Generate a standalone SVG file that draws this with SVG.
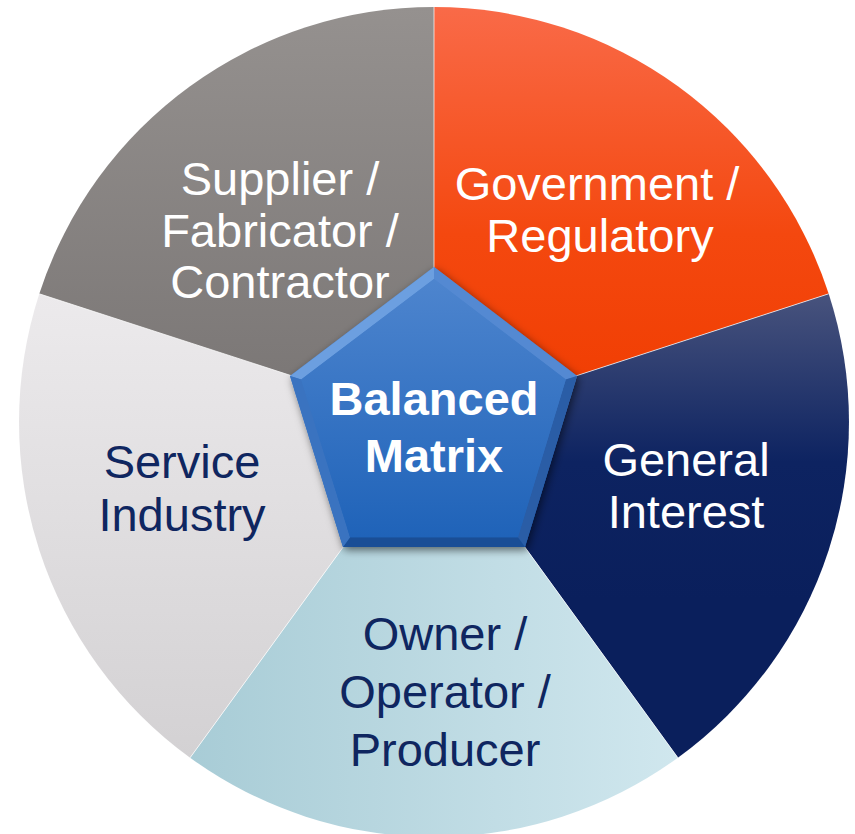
<svg xmlns="http://www.w3.org/2000/svg" width="855" height="834" viewBox="0 0 855 834">
<defs>
<linearGradient id="gGov" gradientUnits="userSpaceOnUse" x1="0" y1="7" x2="0" y2="420"><stop offset="0" stop-color="#f96a48"/><stop offset="0.55" stop-color="#f4480f"/><stop offset="1" stop-color="#f03c00"/></linearGradient>
<linearGradient id="gSup" gradientUnits="userSpaceOnUse" x1="0" y1="7" x2="0" y2="400"><stop offset="0" stop-color="#95918f"/><stop offset="1" stop-color="#7a7675"/></linearGradient>
<linearGradient id="gSer" gradientUnits="userSpaceOnUse" x1="0" y1="294" x2="0" y2="758"><stop offset="0" stop-color="#eceaec"/><stop offset="1" stop-color="#d3d1d3"/></linearGradient>
<linearGradient id="gOwn" gradientUnits="userSpaceOnUse" x1="190" y1="0" x2="678" y2="0"><stop offset="0" stop-color="#a8ccd6"/><stop offset="1" stop-color="#d0e7ee"/></linearGradient>
<linearGradient id="gGen" gradientUnits="userSpaceOnUse" x1="0" y1="294" x2="0" y2="600"><stop offset="0" stop-color="#48537d"/><stop offset="0.55" stop-color="#0d2361"/><stop offset="1" stop-color="#0a1f5c"/></linearGradient>
<linearGradient id="gPent" gradientUnits="userSpaceOnUse" x1="0" y1="270" x2="0" y2="545"><stop offset="0" stop-color="#4f86cf"/><stop offset="1" stop-color="#1e62b8"/></linearGradient>
<filter id="sh" x="-20%" y="-20%" width="140%" height="140%"><feDropShadow dx="2" dy="3" stdDeviation="4" flood-color="#000" flood-opacity="0.55"/></filter>
<style>
.lbl{font-family:"Liberation Sans",Arial,sans-serif;font-size:47px;text-anchor:middle}
.w{fill:#ffffff}
.n{fill:#0f2660}
.sep{stroke:#ffffff;stroke-width:1;stroke-opacity:0.7;fill:none}
.ctr{font-family:"Liberation Sans",Arial,sans-serif;font-size:47px;font-weight:bold;fill:#ffffff;text-anchor:middle}
</style>
</defs>
<g id="gov">
<path d="M434,422 L434,7 A415,415 0 0 1 828.7,293.8 Z" fill="url(#gGov)"/>
<text class="lbl w" x="597" y="200">Government /</text>
<text class="lbl w" x="600" y="252">Regulatory</text>
</g>
<g id="general">
<path d="M434,422 L828.7,293.8 A415,415 0 0 1 677.9,757.7 Z" fill="url(#gGen)"/>
<text class="lbl w" x="686" y="476">General</text>
<text class="lbl w" x="686" y="528">Interest</text>
</g>
<g id="owner">
<path d="M434,422 L677.9,757.7 A415,415 0 0 1 190.1,757.7 Z" fill="url(#gOwn)"/>
<text class="lbl n" x="445" y="650">Owner /</text>
<text class="lbl n" x="445" y="708">Operator /</text>
<text class="lbl n" x="445" y="766">Producer</text>
</g>
<g id="service">
<path d="M434,422 L190.1,757.7 A415,415 0 0 1 39.3,293.8 Z" fill="url(#gSer)"/>
<text class="lbl n" x="182" y="478">Service</text>
<text class="lbl n" x="182" y="531">Industry</text>
</g>
<g id="supplier">
<path d="M434,422 L39.3,293.8 A415,415 0 0 1 434,7 Z" fill="url(#gSup)"/>
<text class="lbl w" x="280" y="195">Supplier /</text>
<text class="lbl w" x="280" y="247">Fabricator /</text>
<text class="lbl w" x="280" y="298">Contractor</text>
</g>
<g id="connectors">
<line class="sep" x1="434" y1="422" x2="434" y2="7"/>
<line class="sep" x1="434" y1="422" x2="828.7" y2="293.8"/>
<line class="sep" x1="434" y1="422" x2="677.9" y2="757.7"/>
<line class="sep" x1="434" y1="422" x2="190.1" y2="757.7"/>
<line class="sep" x1="434" y1="422" x2="39.3" y2="293.8"/>
</g>
<g id="center">
<polygon points="434,267 577,376 525,547 343,547 290,376" fill="url(#gPent)" filter="url(#sh)"/>
<polygon points="290,376 434,267 434,279 301.2,379.6" fill="#6c9fe0"/>
<polygon points="434,267 577,376 565.8,379.6 434,279" fill="#5489d2"/>
<polygon points="577,376 525,547 517.9,537.3 565.8,379.6" fill="#2a5da6"/>
<polygon points="525,547 343,547 350.1,537.3 517.9,537.3" fill="#1a4e96"/>
<polygon points="343,547 290,376 301.2,379.6 350.1,537.3" fill="#3a73c0"/>
<polygon points="434,279 565.8,379.6 517.9,537.3 350.1,537.3 301.2,379.6" fill="url(#gPent)"/>
<text class="ctr" x="434" y="415">Balanced</text>
<text class="ctr" x="434" y="472">Matrix</text>
</g>
</svg>
